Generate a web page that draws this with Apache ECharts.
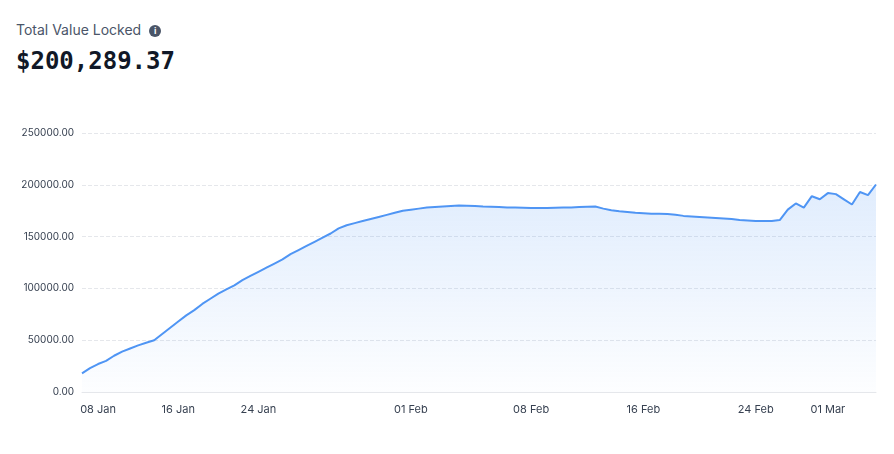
<!DOCTYPE html>
<html>
<head>
<meta charset="utf-8">
<script src="https://cdn.jsdelivr.net/npm/echarts@6/dist/echarts.min.js"></script>
<style>
body { margin: 0; background: #fff; }
#hd { position: absolute; left: 16px; top: 21px; font-family: Inter, "Noto Sans", sans-serif; }
#ttl { font-size: 14px; color: #4a5568; }
#ttl span { display: inline-block; width: 12px; height: 12px; border-radius: 6px; background: #4a5568; color: #fff; font-size: 9px; font-weight: bold; text-align: center; line-height: 12px; margin-left: 8px; vertical-align: 1px; }
#val { font-family: "DejaVu Sans Mono", monospace; font-weight: bold; font-size: 24px; color: #111827; margin-top: 9px; }
#chart { width: 894px; height: 454px; }
</style>
</head>
<body>
<div id="hd"><div id="ttl">Total Value Locked<span>i</span></div><div id="val">$200,289.37</div></div>
<div id="chart"></div>
<script>
var tickLabels = ['08 Jan', '16 Jan', '24 Jan', '01 Feb', '08 Feb', '16 Feb', '24 Feb', '01 Mar'];
var tickIdx = [2, 12, 22, 41, 56, 70, 84, 93];
var tvl = [
	18000, 23000, 27000, 30000, 35000, 39000, 42000, 45000, 47500, 50000,
	56000, 62000, 68000, 74000, 79000, 85000, 90000, 95000, 99000, 103000,
	108000, 112000, 116000, 120000, 124000, 128000, 133000, 137000, 141000, 145000,
	149000, 153000, 158000, 161000, 163000, 165000, 167000, 169000, 171000, 173000,
	175000, 176000, 177000, 178000, 178500, 179000, 179500, 180000, 179800, 179500,
	179000, 178800, 178500, 178000, 178000, 177800, 177500, 177500, 177600, 177800,
	178000, 178200, 178500, 178800, 179000, 177000, 175500, 174500, 173800, 173000,
	172500, 172000, 172000, 171800, 171000, 170000, 169500, 169000, 168500, 168000,
	167500, 167000, 166000, 165500, 165000, 165000, 165000, 166000, 176000, 182000,
	178000, 189000, 186000, 192000, 191000, 186000, 181000, 193000, 190000, 200289
];

var cats = [];
for (var i = 0; i < tvl.length; i++) {
	var k = tickIdx.indexOf(i);
	cats.push(k >= 0 ? tickLabels[k] : '');
}

var option = {
	animation: false,
	grid: { left: 82, right: 18, top: 133, bottom: 62 },
	xAxis: {
		type: 'category',
		data: cats,
		boundaryGap: false,
		axisLine: { lineStyle: { color: '#e5e7eb' } },
		axisTick: { show: false },
		axisLabel: {
			interval: function(idx, v) { return v !== ''; },
			color: '#374151', fontSize: 11, margin: 12, fontFamily: 'Inter'
		}
	},
	yAxis: {
		type: 'value',
		min: 0, max: 250000, interval: 50000,
		axisLabel: {
			formatter: function(v) { return v.toFixed(2); },
			color: '#374151', fontSize: 10, fontFamily: 'Inter'
		},
		splitLine: { lineStyle: { color: '#e5e7eb', type: 'dashed' } }
	},
	series: [{
		type: 'line',
		data: tvl,
		showSymbol: false,
		lineStyle: { color: '#4f95f4', width: 2 },
		areaStyle: {
			color: new echarts.graphic.LinearGradient(0, 0, 0, 1, [
				{ offset: 0, color: 'rgba(79,149,244,0.25)' },
				{ offset: 1, color: 'rgba(79,149,244,0.02)' }
			])
		}
	}]
};
var myChart = echarts.init(document.getElementById('chart'));
myChart.setOption(option);
</script>
</body>
</html>
